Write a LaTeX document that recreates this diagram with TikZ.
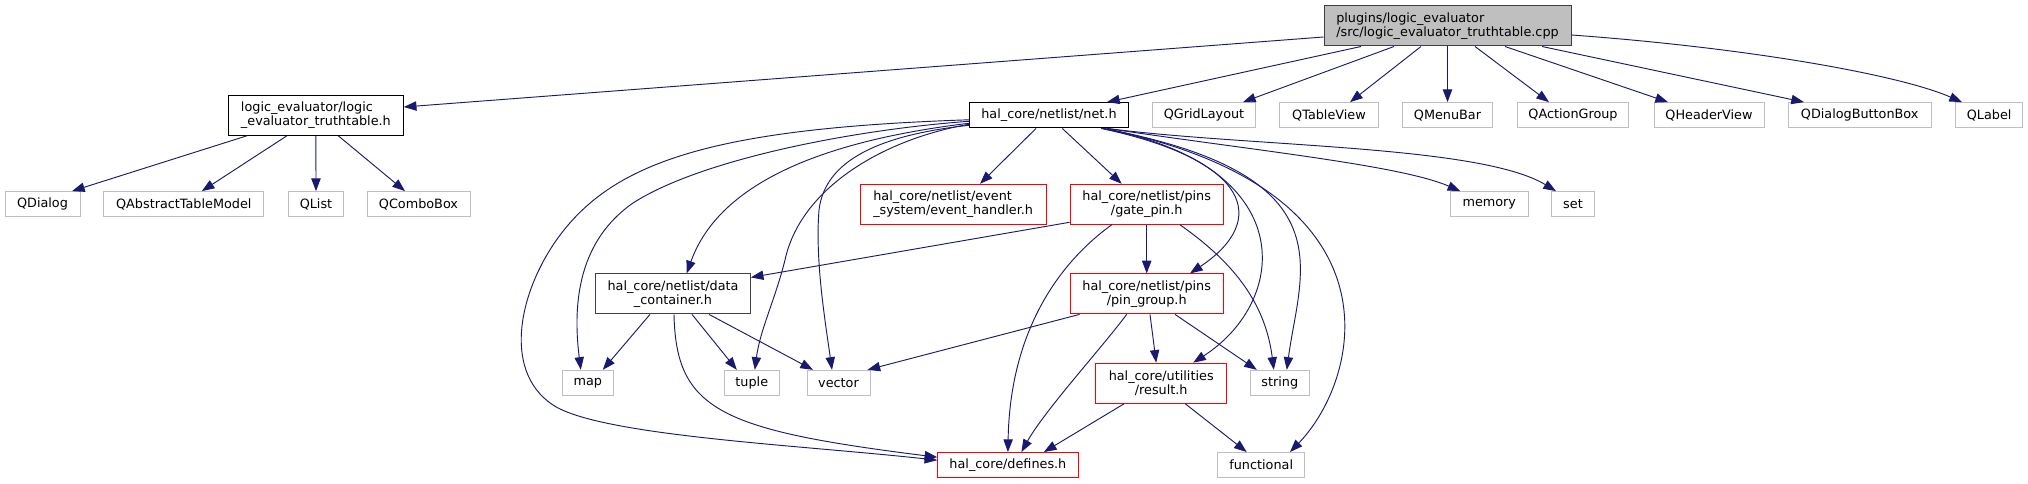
\documentclass[tikz,border=0pt]{standalone}
\usepackage{fontspec}
\setmainfont{DejaVu Sans}
\usetikzlibrary{arrows.meta,calc}
\definecolor{edgeblue}{HTML}{191970}
\definecolor{lgray}{HTML}{BFBFBF}
\definecolor{dgray}{HTML}{404040}
\begin{document}
\begin{tikzpicture}[x=0.75pt,y=-0.75pt,
  base/.style={draw,line width=0.75pt,inner sep=0pt,fill=white,
    font=\fontsize{9.6pt}{10.6pt}\selectfont},
  one/.style={minimum height=19pt},
  two/.style={minimum height=30pt},
  ext/.style={base,one,draw=lgray},
  inc/.style={base,draw=black},
  trunc/.style={base,draw=red},
  edge/.style={draw=edgeblue,line width=0.7pt,-{Triangle[length=9.5pt,width=7pt]},fill=none}
]
\useasboundingbox (0,0) rectangle (2028,484);

% row 0
\node[base,two,draw=dgray,fill=lgray,minimum width=185.25pt,align=left] (root) at (1447.5,26) {plugins/logic\_evaluator\\/src/logic\_evaluator\_truthtable.cpp};
% row 1
\node[inc,two,minimum width=131.1pt,align=left] (logic) at (315.9,115.3) {logic\_evaluator/logic\\\_evaluator\_truthtable.h};
\node[inc,one,minimum width=119.55pt] (net) at (1049,115.3) {hal\_core/netlist/net.h};
\node[ext,minimum width=77.55pt] (qgrid) at (1204,115.3) {QGridLayout};
\node[ext,minimum width=74.55pt] (qtable) at (1329,115.3) {QTableView};
\node[ext,minimum width=68pt] (qmenu) at (1447.5,115.3) {QMenuBar};
\node[ext,minimum width=83.7pt] (qaction) at (1573,115.3) {QActionGroup};
\node[ext,minimum width=82.5pt] (qheader) at (1709,115.3) {QHeaderView};
\node[ext,minimum width=106.95pt] (qdbb) at (1859.7,115.3) {QDialogButtonBox};
\node[ext,minimum width=50.25pt] (qlabel) at (1989.2,115.3) {QLabel};
% row 2
\node[ext,minimum width=56.25pt] (qdialog) at (42.5,204.3) {QDialog};
\node[ext,minimum width=120.2pt] (qatm) at (183.8,204.3) {QAbstractTableModel};
\node[ext,minimum width=40.95pt] (qlist) at (316,204.3) {QList};
\node[ext,minimum width=77.25pt] (qcombo) at (418.5,204.3) {QComboBox};
\node[ext,minimum width=58.5pt] (memory) at (1489.3,204.3) {memory};
\node[ext,minimum width=32.4pt] (set) at (1573,204.3) {set};
\node[trunc,two,minimum width=139.3pt,align=left] (evh) at (953.2,204.3) {hal\_core/netlist/event\\\_system/event\_handler.h};
\node[trunc,two,minimum width=115pt,align=center] (gate) at (1146.7,204.3) {hal\_core/netlist/pins\\/gate\_pin.h};
% row 3
\node[base,two,draw=dgray,minimum width=115.95pt,align=center] (dc) at (673,293.9) {hal\_core/netlist/data\\\_container.h};
\node[trunc,two,minimum width=115pt,align=center] (pg) at (1146.7,293.9) {hal\_core/netlist/pins\\/pin\_group.h};
% row 4
\node[ext,minimum width=38.25pt] (map) at (587.8,383) {map};
\node[ext,minimum width=41.25pt] (tuple) at (751.8,383) {tuple};
\node[ext,minimum width=47.25pt] (vector) at (838.5,383) {vector};
\node[trunc,two,minimum width=98.25pt,align=center] (result) at (1161.2,383.2) {hal\_core/utilities\\/result.h};
\node[ext,minimum width=44.25pt] (string) at (1279.8,383) {string};
% row 5
\node[trunc,one,minimum width=105.2pt] (defines) at (1007.9,465.2) {hal\_core/defines.h};
\node[ext,minimum width=65.25pt] (functional) at (1261.2,465.2) {functional};

% root edges
\draw[edge] ($(root.west)+(0,11)$) -- ($(logic.east)+(0,-8.3)$);
\draw[edge] ($(root.south)+(-86.5,0)$) -- ($(net.north)+(58,0)$);
\draw[edge] ($(root.south)+(-53.5,0)$) -- ($(qgrid.north)+(39,0)$);
\draw[edge] ($(root.south)+(-26.5,0)$) -- ($(qtable.north)+(21,0)$);
\draw[edge] (root.south) -- (qmenu.north);
\draw[edge] ($(root.south)+(27.5,0)$) -- ($(qaction.north)+(-24,0)$);
\draw[edge] ($(root.south)+(57.5,0)$) -- ($(qheader.north)+(-41,0)$);
\draw[edge] ($(root.south)+(94.5,0)$) -- ($(qdbb.north)+(-55.7,0)$);
\draw[edge] ($(root.east)+(0,9)$) .. controls (1750,48) and (1900,75) .. ($(qlabel.north)+(-27.2,0)$);

% logic edges
\draw[edge] ($(logic.south)+(-69,0)$) -- ($(qdialog.north)+(29.5,0)$);
\draw[edge] ($(logic.south)+(-29,0)$) -- ($(qatm.north)+(18,0)$);
\draw[edge] (logic.south) -- (qlist.north);
\draw[edge] ($(logic.south)+(22.4,0)$) -- ($(qcombo.north)+(-13.5,0)$);

% net edges
\draw[edge] ($(net.south)+(-13,0)$) -- ($(evh.north)+(26.8,0)$);
\draw[edge] ($(net.south)+(13.3,0)$) -- ($(gate.north)+(-25,0)$);
\draw[edge] ($(net.south east)+(-22,0)$) .. controls (1250,150) and (1400,165) .. ($(memory.north)+(-29,0)$);
\draw[edge] ($(net.south east)+(-22,0)$) .. controls (1250,147) and (1480,145) .. ($(set.north)+(-17,0)$);
\draw[edge] ($(net.south east)+(-28,0)$) .. controls (1250,160) and (1270,220) .. ($(pg.north)+(43.3,0)$);
\draw[edge] ($(net.south east)+(-27,0)$) .. controls (1300,165) and (1290,300) .. ($(result.north)+(32,0)$);
\draw[edge] ($(net.south east)+(-26,0)$) .. controls (1350,175) and (1300,270) .. ($(string.north)+(7,0)$);
\draw[edge] ($(net.south east)+(-25,0)$) .. controls (1410,190) and (1360,380) .. ($(functional.north)+(28.8,0)$);
\draw[edge] ($(net.west)+(0,6)$) .. controls (850,130) and (700,160) .. (633,203) .. controls (580,240) and (572,300) .. ($(map.north)+(-7,0)$);
\draw[edge] ($(net.west)+(0,8)$) .. controls (830,140) and (720,180) .. ($(dc.north)+(13.7,0)$);
\draw[edge] ($(net.west)+(0,4.5)$) .. controls (720,128) and (620,160) .. (564,230) .. controls (520,285) and (500,370) .. (553,405) .. controls (600,436) and (800,445) .. ($(defines.west)+(0,-5)$);
\draw[edge] ($(net.west)+(0,9)$) .. controls (880,140) and (800,190) .. (785,260) .. controls (775,300) and (760,330) .. ($(tuple.north)+(3,0)$);
\draw[edge] ($(net.west)+(0,10)$) .. controls (880,135) and (825,160) .. (819,210) .. controls (815,260) and (825,320) .. ($(vector.north)+(-6.5,0)$);

% gate_pin edges
\draw[edge] ($(gate.west)+(0,18)$) -- ($(dc.east)+(0,-16.5)$);
\draw[edge] (gate.south) -- (pg.north);
\draw[edge] ($(gate.south)+(-35,0)$) .. controls (1060,262) and (1010,330) .. (defines.north);
\draw[edge] ($(gate.south)+(33.3,0)$) .. controls (1230,260) and (1265,300) .. ($(string.north)+(-6,0)$);

% pin_group edges
\draw[edge] ($(pg.south west)+(10,0)$) -- ($(vector.north east)+(-3,0)$);
\draw[edge] ($(pg.south)+(-20,0)$) .. controls (1100,350) and (1045,410) .. ($(defines.north)+(13.5,0)$);
\draw[edge] ($(pg.south)+(3.3,0)$) -- ($(result.north)+(-5,0)$);
\draw[edge] ($(pg.south)+(28.3,0)$) -- ($(string.north)+(-23,0)$);

% result edges
\draw[edge] ($(result.south)+(-37,0)$) -- ($(defines.north)+(36,0)$);
\draw[edge] ($(result.south)+(24,0)$) -- ($(functional.north)+(-14.5,0)$);

% data_container edges
\draw[edge] ($(dc.south)+(-23,0)$) -- ($(map.north)+(15,0)$);
\draw[edge] ($(dc.south)+(1,0)$) .. controls (676,410) and (720,430) .. ($(defines.west)+(0,-8)$);
\draw[edge] ($(dc.south)+(19,0)$) -- ($(tuple.north)+(-15,0)$);
\draw[edge] ($(dc.south)+(36,0)$) -- ($(vector.north)+(-25.5,0)$);
\end{tikzpicture}
\end{document}
